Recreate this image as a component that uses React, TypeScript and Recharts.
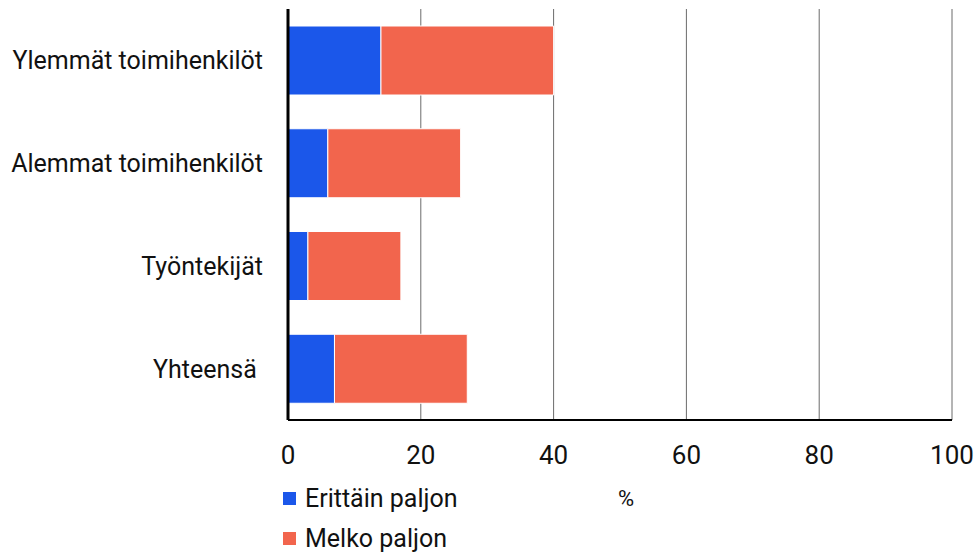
import React from "react";
import { BarChart, Bar, XAxis, YAxis, CartesianGrid, Legend, Label } from "recharts";

const categories = ["Ylemmät toimihenkilöt", "Alemmat toimihenkilöt", "Työntekijät", "Yhteensä\u00a0"];
const erittainPaljon = [14, 6, 3, 7];
const melkoPaljon = [26, 20, 14, 20];
const xTicks = [0, 20, 40, 60, 80, 100];
const seriesNames = ["Erittäin paljon", "Melko paljon"];
const seriesColors = ["#1b57ea", "#f2654d"];
const axisUnit = "%";

const data = categories.map((c, i) => ({ name: c, a: erittainPaljon[i], b: melkoPaljon[i] }));

const FONT = "Roboto, 'Noto Sans', sans-serif";

const LegendContent = () => (
  <div style={{ fontFamily: FONT, fontSize: 25, color: "#111" }}>
    {seriesNames.map((n, i) => (
      <div key={n} style={{ display: "flex", alignItems: "center", height: 40 }}>
        <span style={{ display: "inline-block", width: 13, height: 13, background: seriesColors[i], marginRight: 9 }} />
        <span>{n}</span>
      </div>
    ))}
  </div>
);

export default function App() {
  return (
    <div style={{ position: "absolute", left: 0, top: 0 }}>
      <BarChart
        width={976}
        height={554}
        data={data}
        layout="vertical"
        margin={{ top: 9, right: 24, left: 0, bottom: 0 }}
        barCategoryGap={17}
      >
        <CartesianGrid horizontal={false} stroke="#6b6b6b" strokeWidth={1} />
        <XAxis
          type="number"
          domain={[0, 100]}
          ticks={xTicks}
          tickLine={false}
          axisLine={{ stroke: "#000", strokeWidth: 2 }}
          tickMargin={20}
          height={134}
          tick={{ fill: "#111", fontSize: 26, fontFamily: FONT }}
          interval={0}
        >
          <Label value={axisUnit} position="insideBottom" offset={48} dx={6} style={{ fill: "#111", fontSize: 22, fontFamily: FONT }} />
        </XAxis>
        <YAxis
          type="category"
          dataKey="name"
          width={288}
          tickLine={false}
          axisLine={{ stroke: "#000", strokeWidth: 3 }}
          tickMargin={19}
          tick={{ fill: "#111", fontSize: 25, fontFamily: FONT }}
          interval={0}
        />
        <Legend
          layout="vertical"
          align="center"
          verticalAlign="middle"
          content={<LegendContent />}
          wrapperStyle={{ left: 283, top: 478, width: 300, height: 80 }}
        />
        <Bar dataKey="a" name={seriesNames[0]} stackId="s" fill={seriesColors[0]} stroke="#fff" strokeWidth={1} isAnimationActive={false} />
        <Bar dataKey="b" name={seriesNames[1]} stackId="s" fill={seriesColors[1]} stroke="#fff" strokeWidth={1} isAnimationActive={false} />
      </BarChart>
    </div>
  );
}
